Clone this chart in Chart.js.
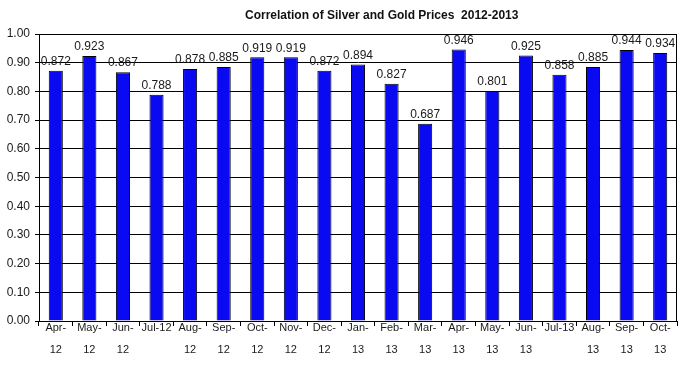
<!DOCTYPE html>
<html>
<head>
<meta charset="utf-8">
<script src="https://cdn.jsdelivr.net/npm/chart.js@4.4.0/dist/chart.umd.min.js"></script>
<style>
  html, body { margin: 0; padding: 0; background: #fff; }
  #wrap { position: relative; width: 697px; height: 388px; }
  #title {
    position: absolute; left: 245px; top: 8px;
    font: bold 12px "Liberation Sans", Arial, sans-serif; color: #111;
    white-space: pre;
  }
</style>
</head>
<body>
<div id="wrap">
  <div id="title">Correlation of Silver and Gold Prices  2012-2013</div>
  <canvas id="chart1" width="697" height="388"></canvas>
</div>
<script>
const months = ['Apr-12', 'May-12', 'Jun-12', 'Jul-12', 'Aug-12', 'Sep-12', 'Oct-12', 'Nov-12', 'Dec-12',
  'Jan-13', 'Feb-13', 'Mar-13', 'Apr-13', 'May-13', 'Jun-13', 'Jul-13', 'Aug-13', 'Sep-13', 'Oct-13'];
const correlation = [0.872, 0.923, 0.867, 0.788, 0.878, 0.885, 0.919, 0.919, 0.872,
  0.894, 0.827, 0.687, 0.946, 0.801, 0.925, 0.858, 0.885, 0.944, 0.934];

// Jul labels fit on one line in the original, the rest wrap after the dash
function splitLabel(lbl) {
  if (lbl.startsWith('Jul')) return lbl;
  const parts = lbl.split('-');
  return [parts[0] + '-', parts[1]];
}

const fontFam = '"Liberation Sans", Arial, sans-serif';

// draws the values above the bars and the box round the plot
const barValues = {
  id: 'barValues',
  afterDatasetsDraw(chart) {
    const c = chart.ctx;
    const meta = chart.getDatasetMeta(0);
    c.save();
    c.font = '12px ' + fontFam;
    c.fillStyle = '#1a1a1a';
    c.textAlign = 'center';
    c.textBaseline = 'bottom';
    meta.data.forEach((bar, i) => {
      c.fillText(correlation[i].toFixed(3), bar.x, bar.y - 3);
    });
    const a = chart.chartArea;
    c.strokeStyle = '#000';
    c.lineWidth = 1;
    c.beginPath();
    c.moveTo(a.left, a.top + 0.5);
    c.lineTo(a.right - 0.5, a.top + 0.5);
    c.lineTo(a.right - 0.5, a.bottom);
    c.stroke();
    c.restore();
  }
};

const ctx = document.getElementById('chart1');
const myChart = new Chart(ctx, {
  type: 'bar',
  data: {
    labels: months.map(splitLabel),
    datasets: [{
      data: correlation,
      backgroundColor: '#0a0af2',
      borderColor: '#000',
      borderWidth: 1,
      categoryPercentage: 1,
      barPercentage: 0.42
    }]
  },
  options: {
    responsive: false,
    animation: false,
    layout: { padding: { top: 34, right: 20, left: 0, bottom: 0 } },
    plugins: { legend: { display: false }, tooltip: { enabled: false } },
    scales: {
      x: {
        grid: { display: true, drawOnChartArea: false, offset: true, color: '#000', tickLength: 5 },
        border: { color: '#000' },
        ticks: {
          color: '#1a1a1a', font: { family: fontFam, size: 11, lineHeight: 2.0 },
          padding: -9, maxRotation: 0, autoSkip: false
        },
        afterFit(scale) { scale.height = 67; }
      },
      y: {
        min: 0, max: 1,
        grid: { color: '#000', tickLength: 4 },
        border: { color: '#000' },
        ticks: {
          stepSize: 0.1, color: '#1a1a1a', padding: 5,
          font: { family: fontFam, size: 12 },
          callback: v => v.toFixed(2)
        },
        afterFit(scale) { scale.width = 39; }
      }
    }
  },
  plugins: [barValues]
});
</script>
</body>
</html>
